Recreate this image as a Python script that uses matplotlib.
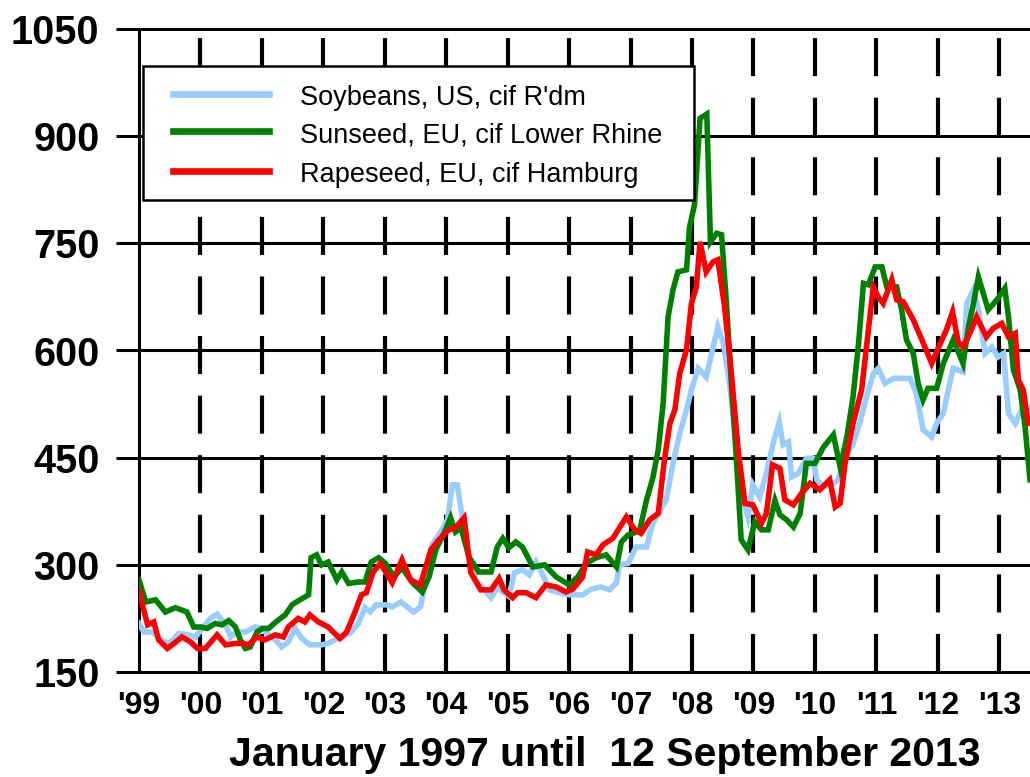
import matplotlib
matplotlib.use("Agg")
import matplotlib.pyplot as plt
from matplotlib.lines import Line2D
from matplotlib.patches import Rectangle

plt.rcParams["font.family"] = ["Liberation Sans", "DejaVu Sans"]
plt.rcParams["lines.scale_dashes"] = False

# prices in US$/t (decimal years)
soy_years = [
    1999.00, 1999.08, 1999.22, 1999.35, 1999.49, 1999.65, 1999.81, 1999.92,
    2000.03, 2000.16, 2000.27, 2000.41, 2000.49, 2000.59, 2000.73, 2000.89,
    2001.00, 2001.11, 2001.22, 2001.32, 2001.43, 2001.54, 2001.65, 2001.78,
    2001.97, 2002.08, 2002.19, 2002.30, 2002.43, 2002.57, 2002.68, 2002.76,
    2002.86, 2003.03, 2003.12, 2003.26, 2003.47, 2003.58, 2003.66, 2003.77,
    2003.91, 2004.02, 2004.10, 2004.18, 2004.26, 2004.37, 2004.48, 2004.62,
    2004.73, 2004.83, 2004.94, 2005.02, 2005.11, 2005.24, 2005.35, 2005.46,
    2005.57, 2005.68, 2005.84, 2006.00, 2006.22, 2006.36, 2006.52, 2006.66,
    2006.77, 2006.82, 2006.96, 2007.09, 2007.26, 2007.36, 2007.58, 2007.69,
    2007.80, 2007.91, 2007.99, 2008.10, 2008.23, 2008.32, 2008.42, 2008.51,
    2008.61, 2008.72, 2008.83, 2008.91, 2008.99, 2009.10, 2009.21, 2009.32,
    2009.42, 2009.48, 2009.57, 2009.62, 2009.73, 2009.86, 2009.97, 2010.03,
    2010.14, 2010.30, 2010.38, 2010.46, 2010.62, 2010.73, 2010.84, 2010.95,
    2011.03, 2011.14, 2011.28, 2011.55, 2011.65, 2011.76, 2011.90, 2011.98,
    2012.09, 2012.17, 2012.25, 2012.41, 2012.47, 2012.58, 2012.66, 2012.77,
    2012.88, 2012.98, 2013.07, 2013.15, 2013.26, 2013.36, 2013.50,
]
soy_prices = [
    218, 206, 206, 195, 190, 204, 202, 199,
    211, 225, 231, 216, 199, 206, 206, 213,
    211, 202, 195, 185, 192, 211, 197, 188,
    188, 190, 195, 199, 204, 218, 240, 234,
    244, 244, 241, 248, 234, 241, 275, 328,
    346, 363, 412, 412, 367, 310, 279, 265,
    254, 268, 261, 256, 289, 293, 286, 304,
    286, 265, 261, 258, 258, 266, 269, 265,
    275, 300, 302, 325, 325, 358, 391, 442,
    484, 517, 545, 575, 563, 596, 633, 610,
    554, 470, 391, 367, 412, 395, 428, 470,
    500, 468, 472, 423, 428, 449, 449, 419,
    409, 414, 419, 442, 470, 498, 535, 568,
    575, 554, 561, 561, 540, 489, 479, 498,
    512, 545, 575, 570, 666, 685, 657, 596,
    605, 591, 596, 512, 498, 517, 520,
]

sun_years = [
    1999.00, 1999.11, 1999.27, 1999.43, 1999.59, 1999.78, 1999.89, 2000.00,
    2000.11, 2000.24, 2000.35, 2000.46, 2000.57, 2000.65, 2000.73, 2000.81,
    2000.92, 2001.01, 2001.11, 2001.24, 2001.38, 2001.49, 2001.62, 2001.76,
    2001.80, 2001.89, 2001.97, 2002.08, 2002.22, 2002.30, 2002.41, 2002.57,
    2002.68, 2002.78, 2002.90, 2003.01, 2003.15, 2003.28, 2003.45, 2003.61,
    2003.72, 2003.83, 2003.99, 2004.07, 2004.15, 2004.24, 2004.37, 2004.53,
    2004.73, 2004.83, 2004.92, 2005.02, 2005.13, 2005.24, 2005.41, 2005.60,
    2005.79, 2006.00, 2006.14, 2006.28, 2006.44, 2006.60, 2006.77, 2006.85,
    2006.96, 2007.04, 2007.15, 2007.26, 2007.36, 2007.45, 2007.53, 2007.61,
    2007.69, 2007.77, 2007.91, 2007.96, 2008.04, 2008.13, 2008.24, 2008.30,
    2008.40, 2008.48, 2008.56, 2008.64, 2008.72, 2008.80, 2008.91, 2009.02,
    2009.13, 2009.24, 2009.35, 2009.43, 2009.54, 2009.65, 2009.76, 2009.86,
    2010.00, 2010.14, 2010.30, 2010.41, 2010.52, 2010.62, 2010.71, 2010.79,
    2010.87, 2010.98, 2011.09, 2011.17, 2011.33, 2011.41, 2011.49, 2011.60,
    2011.68, 2011.76, 2011.84, 2011.98, 2012.09, 2012.25, 2012.41, 2012.50,
    2012.58, 2012.66, 2012.74, 2012.82, 2012.96, 2013.09, 2013.15, 2013.23,
    2013.34, 2013.42, 2013.50,
]
sun_prices = [
    279, 248, 251, 234, 240, 234, 213, 213,
    211, 218, 216, 222, 213, 195, 183, 185,
    206, 211, 211, 221, 230, 244, 251, 258,
    310, 314, 300, 304, 279, 290, 274, 276,
    276, 304, 310, 302, 283, 296, 275, 262,
    283, 321, 349, 366, 346, 352, 311, 290,
    290, 325, 337, 324, 332, 325, 297, 300,
    283, 272, 283, 302, 310, 314, 297, 332,
    342, 344, 349, 391, 421, 461, 526, 647,
    685, 710, 713, 773, 804, 925, 931, 752,
    764, 762, 666, 554, 451, 335, 321, 360,
    349, 349, 390, 370, 363, 353, 372, 442,
    442, 465, 482, 437, 479, 535, 610, 694,
    692, 717, 717, 689, 689, 657, 615, 596,
    554, 531, 547, 547, 582, 615, 582, 633,
    666, 703, 680, 657, 671, 687, 647, 573,
    545, 493, 419,
]

rape_years = [
    1999.00, 1999.05, 1999.14, 1999.24, 1999.32, 1999.46, 1999.57, 1999.70,
    1999.84, 1999.95, 2000.08, 2000.27, 2000.41, 2000.57, 2000.70, 2000.78,
    2000.92, 2001.05, 2001.22, 2001.35, 2001.43, 2001.59, 2001.70, 2001.78,
    2001.92, 2002.08, 2002.16, 2002.27, 2002.38, 2002.51, 2002.62, 2002.70,
    2002.81, 2002.93, 2003.12, 2003.28, 2003.42, 2003.58, 2003.75, 2003.88,
    2004.04, 2004.15, 2004.29, 2004.40, 2004.56, 2004.73, 2004.86, 2004.94,
    2005.08, 2005.16, 2005.30, 2005.46, 2005.62, 2005.79, 2005.95, 2006.06,
    2006.22, 2006.30, 2006.44, 2006.55, 2006.71, 2006.82, 2006.93, 2007.07,
    2007.17, 2007.31, 2007.45, 2007.55, 2007.64, 2007.72, 2007.80, 2007.91,
    2007.99, 2008.07, 2008.13, 2008.23, 2008.34, 2008.42, 2008.53, 2008.64,
    2008.75, 2008.86, 2008.99, 2009.13, 2009.21, 2009.31, 2009.43, 2009.51,
    2009.65, 2009.78, 2009.92, 2010.08, 2010.24, 2010.33, 2010.41, 2010.49,
    2010.62, 2010.76, 2010.87, 2010.95, 2011.03, 2011.11, 2011.25, 2011.33,
    2011.44, 2011.60, 2011.74, 2011.90, 2012.03, 2012.14, 2012.24, 2012.33,
    2012.41, 2012.52, 2012.63, 2012.79, 2012.90, 2013.04, 2013.15, 2013.26,
    2013.31, 2013.39, 2013.47,
]
rape_prices = [
    265, 246, 216, 220, 195, 183, 190, 199,
    192, 183, 183, 202, 188, 190, 190, 188,
    199, 195, 202, 199, 213, 225, 220, 230,
    220, 213, 206, 197, 206, 233, 258, 261,
    290, 302, 275, 307, 279, 272, 321, 335,
    349, 352, 366, 289, 265, 265, 281, 265,
    254, 261, 261, 254, 272, 269, 262, 266,
    283, 318, 314, 328, 337, 352, 367, 349,
    344, 363, 372, 447, 498, 517, 568, 601,
    666, 689, 752, 710, 724, 727, 661, 568,
    461, 386, 384, 358, 372, 440, 435, 391,
    384, 400, 414, 405, 419, 381, 386, 442,
    498, 545, 629, 689, 675, 666, 699, 671,
    668, 643, 615, 582, 608, 629, 654, 612,
    605, 624, 647, 619, 631, 638, 619, 624,
    559, 545, 498,
]

series_labels = [
    "Soybeans, US, cif R'dm",
    "Sunseed, EU, cif Lower Rhine",
    "Rapeseed, EU, cif Hamburg",
]
series_colors = ["#99ccff", "#008000", "#ff0000"]

years = list(range(1999, 2014))
year_labels = ["'{:02d}".format(y % 100) for y in years]
y_ticks = [150, 300, 450, 600, 750, 900, 1050]


fig = plt.figure(figsize=(10.30, 7.77), dpi=100)
ax = fig.add_axes([139 / 1030, 105 / 777, 891 / 1030, 643 / 777])

# year markers, dashed, and solid price grid
for yr in years[1:]:
    ax.axvline(yr, color="black", linewidth=3.0,
               linestyle=(0, (27.4, 15.5)), zorder=1)
for yv in y_ticks[1:-1]:
    ax.axhline(yv, color="black", linewidth=2.2, zorder=1)

all_series = [(soy_years, soy_prices), (sun_years, sun_prices),
              (rape_years, rape_prices)]
for (xs, ys), color in zip(all_series, series_colors):
    ax.plot(xs, ys, color=color, linewidth=4.0, zorder=3,
            solid_joinstyle="miter")

ax.set_xlim(1999, 2013.5)
ax.set_ylim(150, 1050)
ax.set_yticks(y_ticks)
ax.set_yticklabels([str(v) for v in y_ticks], fontsize=28.5,
                   fontweight="bold")
ax.set_xticks(years)
ax.set_xticklabels(year_labels, fontsize=23, fontweight="bold")
ax.tick_params(axis="y", direction="out", length=16.5, width=2.2, pad=12)
ax.tick_params(axis="x", length=0, pad=14)

for side in ["top", "bottom", "left"]:
    ax.spines[side].set_linewidth(2.2)
    ax.spines[side].set_zorder(2)
ax.spines["right"].set_visible(False)

# hand-built legend box (Excel style)
def px(x, y):
    return ((x - 139) / 891, (672 - y) / 643)


x0, y0 = px(143, 200)
x1, y1 = px(694, 66)
ax.add_patch(Rectangle((x0, y0), x1 - x0, y1 - y0, transform=ax.transAxes,
                       facecolor="white", edgecolor="black", linewidth=1.8,
                       zorder=4, clip_on=False))
for i, (label, color) in enumerate(zip(series_labels, series_colors)):
    row_y = [94, 131, 171][i]
    hx0, hy = px(173, row_y)
    hx1, _ = px(269, row_y)
    ax.add_line(Line2D([hx0, hx1], [hy, hy], transform=ax.transAxes,
                       color=color, linewidth=4.8, zorder=5))
    tx, ty = px(300, row_y + 11)
    ax.text(tx, ty, label, transform=ax.transAxes, fontsize=19.5,
            va="baseline", ha="left", zorder=5)

fig.text(605 / 1030, 11 / 777, "January 1997 until  12 September 2013",
         fontsize=29.5, fontweight="bold", ha="center", va="baseline")

fig.savefig("out.png", dpi=100)
